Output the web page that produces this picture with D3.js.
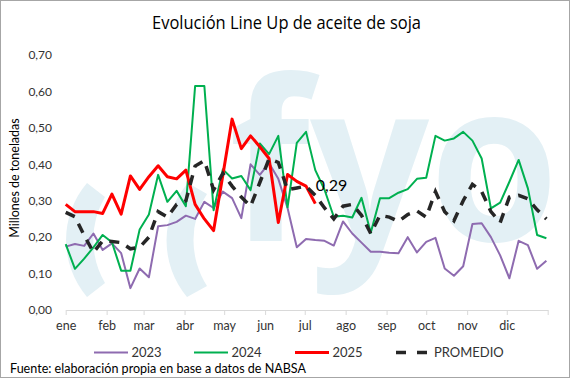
<!DOCTYPE html>
<html><head><meta charset="utf-8">
<script src="https://cdn.jsdelivr.net/npm/d3@7"></script>
<style>body{margin:0;background:#fff}svg{display:block}</style>
</head><body><svg id="c" width="571" height="379"></svg>
<script>
// ---- data ----
const title = "Evolución Line Up de aceite de soja";
const yAxisTitle = "Millones de toneladas";
const source = "Fuente: elaboración  propia en base a datos  de NABSA";
const monthLabels = ["ene","feb","mar","abr","may","jun","jul","ago","sep","oct","nov","dic"];
const yTicks = [0, 0.1, 0.2, 0.3, 0.4, 0.5, 0.6, 0.7];
const seriesNames = ["2023", "2024", "2025", "PROMEDIO"];
const seriesColors = ["#8e6bb0", "#00b050", "#ff0000", "#262626"];
const weekCount = 53; // weekly observations starting 1 January
const v2023 = [0.174,0.181,0.176,0.21,0.165,0.183,0.156,0.06,0.114,0.09,
  0.23,0.233,0.242,0.259,0.25,0.297,0.28,0.325,0.307,0.252,
  0.40,0.371,0.403,0.36,0.28,0.172,0.195,0.192,0.19,0.177,
  0.243,0.21,0.185,0.16,0.16,0.157,0.156,0.20,0.158,0.187,
  0.198,0.114,0.094,0.12,0.236,0.238,0.20,0.15,0.087,0.19,
  0.178,0.113,0.135];
const v2024 = [0.181,0.113,0.141,0.172,0.206,0.186,0.108,0.108,0.221,0.262,
  0.371,0.297,0.327,0.285,0.615,0.615,0.274,0.386,0.361,0.368,
  0.329,0.457,0.428,0.478,0.282,0.459,0.489,0.384,0.33,0.256,
  0.259,0.254,0.308,0.212,0.307,0.307,0.322,0.332,0.36,0.363,
  0.478,0.465,0.471,0.489,0.465,0.416,0.279,0.295,0.352,0.412,
  0.334,0.206,0.197];
const v2025 = [0.29,0.27,0.27,0.27,0.265,0.318,0.263,0.368,0.331,0.366,
  0.396,0.366,0.36,0.384,0.29,0.25,0.218,0.37,0.524,0.443,
  0.478,0.448,0.416,0.24,0.372,0.353,0.34,0.292];
const vProm = [0.268,0.256,0.205,0.158,0.19,0.188,0.185,0.168,0.172,0.20,
  0.27,0.255,0.29,0.30,0.395,0.41,0.33,0.375,0.34,0.31,
  0.285,0.35,0.415,0.405,0.33,0.335,0.34,0.315,0.28,0.25,
  0.285,0.29,0.26,0.21,0.26,0.255,0.243,0.262,0.272,0.255,
  0.325,0.27,0.245,0.30,0.345,0.325,0.27,0.24,0.31,0.315,
  0.305,0.275,0.25];

// ---- drawing ----
const W = 571, H = 379;
const FONT = "Lato, 'Open Sans', sans-serif";
const svg = d3.select("#c");
svg.append("rect").attr("x",0.5).attr("y",0.5).attr("width",W-2).attr("height",H-2)
  .attr("fill","#fff").attr("stroke","#a6a6a6").attr("stroke-width",1);

const start = new Date(2023,0,1), end = new Date(2024,0,1);
const x = d3.scaleTime().domain([start, end]).range([65.7, 547.7]);
const y = d3.scaleLinear().domain([0, 0.7]).range([310, 55]);
const weekDate = i => d3.timeDay.offset(start, 7*i);

// watermark (fyo logo)
const wmColor = "#e3f0f5";
const wm = svg.append("g");
wm.append("path").attr("fill",wmColor)
  .attr("d","M87,183 A88,88 0 0 0 87,297 L105,283 A85,85 0 0 1 105,197 Z");
wm.append("path").attr("fill",wmColor)
  .attr("d","M188,183 A88,88 0 0 0 187,297 L207,286 A85,85 0 0 1 207,194 Z");
wm.append("text").attr("x",229).attr("y",241).attr("font-family","'Open Sans', sans-serif")
  .attr("font-weight",700).attr("font-size",222).attr("fill",wmColor)
  .attr("textLength",330).attr("lengthAdjust","spacingAndGlyphs").text("fyo");

// title
svg.append("text").attr("x",152).attr("y",29).attr("font-family","'Liberation Sans Narrow', 'Open Sans', sans-serif")
  .attr("font-size",19).attr("fill","#000").attr("textLength",269).attr("lengthAdjust","spacingAndGlyphs")
  .text(title);

// y axis
const fmt = v => d3.format(".2f")(v).replace(".", ",");
const yAx = svg.append("g").attr("transform","translate(60,0)")
  .call(d3.axisLeft(y).tickValues(yTicks).tickSize(0).tickPadding(8).tickFormat(fmt));
yAx.select(".domain").remove();
yAx.selectAll("text").attr("font-family",FONT).attr("font-size",12).attr("fill","#333");

svg.append("text").attr("transform","translate(19,178) rotate(-90)").attr("text-anchor","middle")
  .attr("font-family",FONT).attr("font-size",12.5).attr("fill","#000").text(yAxisTitle);

// x axis
const monthTicks = d3.timeMonth.range(start, d3.timeDay.offset(end,1));
const xAx = svg.append("g").attr("transform","translate(0,310)")
  .call(d3.axisBottom(x).tickValues(monthTicks).tickSize(5).tickSizeOuter(0).tickPadding(6)
    .tickFormat((d,i) => monthLabels[i] || ""));
xAx.select(".domain").attr("stroke","#d9d9d9");
xAx.selectAll(".tick line").attr("stroke","#d9d9d9");
xAx.selectAll("text").attr("font-family",FONT).attr("font-size",12.5).attr("fill","#333");

// lines
const line = d3.line().x((d,i) => x(weekDate(i))).y(d => y(d));
const series = [v2023, v2024, v2025, vProm];
const widths = [2, 2, 3, 3.5];
series.forEach((vals, k) => {
  const p = svg.append("path").datum(vals).attr("fill","none")
    .attr("stroke",seriesColors[k]).attr("stroke-width",widths[k])
    .attr("stroke-linejoin","round").attr("d",line);
  if (k === 3) p.attr("stroke-dasharray","10,8").attr("stroke-linejoin","miter");
});

// last value label
const li = v2025.length - 1;
svg.append("text").attr("x", x(weekDate(li)) + 0.5).attr("y", y(v2025[li]) - 12.5)
  .attr("font-family",FONT).attr("font-size",16).attr("fill","#000").text(fmt(v2025[li]));

// legend
const legX = [94, 194, 295, 396];
const leg = svg.append("g");
seriesNames.forEach((n,k) => {
  const ln = leg.append("line").attr("x1",legX[k]).attr("x2",legX[k]+34).attr("y1",352.5).attr("y2",352.5)
    .attr("stroke",seriesColors[k]).attr("stroke-width",widths[k]);
  if (k === 3) ln.attr("stroke-dasharray","10,11").attr("x2",legX[k]+32);
  leg.append("text").attr("x",legX[k]+(k===3?38:37.5)).attr("y",357).attr("font-family",FONT)
    .attr("font-size",13).attr("fill","#333").text(n);
});

// source
svg.append("text").attr("x",10).attr("y",373).attr("font-family",FONT).attr("font-size",12.5)
  .attr("fill","#000").attr("textLength",296).attr("lengthAdjust","spacingAndGlyphs").text(source);
</script></body></html>
